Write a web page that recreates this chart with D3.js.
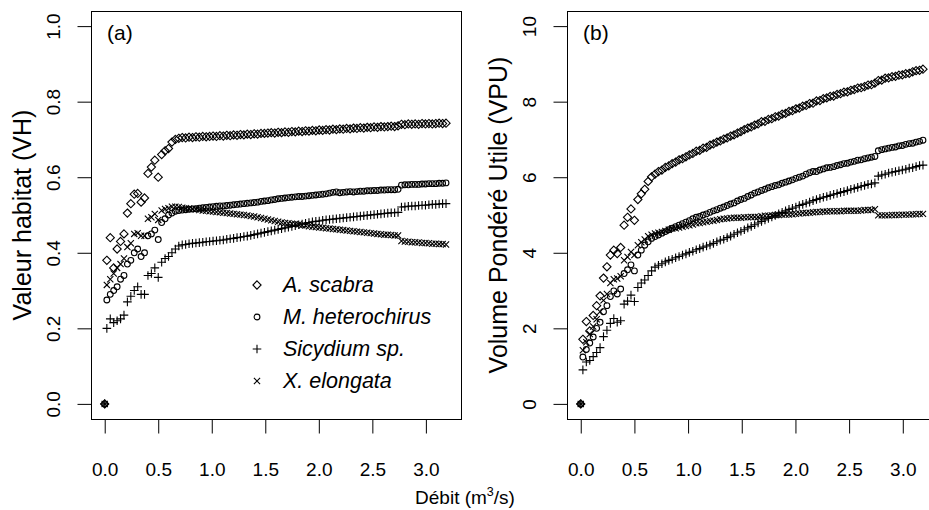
<!DOCTYPE html>
<html><head><meta charset="utf-8">
<script src="https://cdn.jsdelivr.net/npm/d3@7"></script>
<style>
html,body{margin:0;padding:0;background:#fff;}
text{font-family:"Liberation Sans",Arial,sans-serif;fill:#000;}
</style></head>
<body><div id="chart"></div>
<script>
const debit = [0,
0.02,0.052,0.084,0.116,0.148,0.18,0.212,0.244,0.276,0.308,
0.34,0.372,0.404,0.436,0.468,0.5,0.532,0.564,0.596,0.628,
0.66,0.692,0.724,0.756,0.788,0.82,0.852,0.884,0.916,0.948,
0.98,1.012,1.044,1.076,1.108,1.14,1.172,1.204,1.236,1.268,
1.3,1.332,1.364,1.396,1.428,1.46,1.492,1.524,1.556,1.588,
1.62,1.652,1.684,1.716,1.748,1.78,1.812,1.844,1.876,1.908,
1.94,1.972,2.004,2.036,2.068,2.1,2.132,2.164,2.196,2.228,
2.26,2.292,2.324,2.356,2.388,2.42,2.452,2.484,2.516,2.548,
2.58,2.612,2.644,2.676,2.708,2.74,2.772,2.804,2.836,2.868,
2.9,2.932,2.964,2.996,3.028,3.06,3.092,3.124,3.156,3.188];

const species = ["A. scabra","M. heterochirus","Sicydium sp.","X. elongata"];

const vhScabra = [0,
0.38,0.44,0.36,0.41,0.43,0.45,0.505,0.53,0.555,0.557,
0.534,0.545,0.61,0.627,0.645,0.60,0.66,0.67,0.676,0.693,
0.70,0.703,0.705,0.704,0.706,0.705,0.707,0.706,0.708,0.707,
0.708,0.709,0.708,0.710,0.709,0.711,0.710,0.712,0.711,0.713,
0.712,0.714,0.713,0.715,0.714,0.716,0.716,0.717,0.718,0.717,
0.719,0.718,0.720,0.719,0.721,0.720,0.722,0.721,0.723,0.722,
0.724,0.723,0.725,0.724,0.726,0.725,0.727,0.726,0.728,0.727,
0.729,0.728,0.730,0.729,0.731,0.730,0.732,0.731,0.733,0.732,
0.734,0.733,0.734,0.735,0.734,0.736,0.740,0.739,0.741,0.740,
0.741,0.740,0.742,0.741,0.742,0.741,0.742,0.743,0.742,0.743];
const vhMhet = [0,
0.275,0.29,0.30,0.31,0.33,0.34,0.37,0.38,0.40,0.41,
0.39,0.40,0.445,0.45,0.46,0.435,0.48,0.49,0.50,0.505,
0.51,0.512,0.513,0.514,0.515,0.516,0.517,0.518,0.519,0.520,
0.521,0.522,0.523,0.524,0.524,0.525,0.526,0.527,0.528,0.529,
0.530,0.531,0.532,0.533,0.534,0.536,0.537,0.538,0.540,0.541,
0.543,0.544,0.545,0.546,0.547,0.548,0.549,0.549,0.550,0.551,
0.552,0.553,0.554,0.555,0.556,0.558,0.560,0.561,0.559,0.560,
0.561,0.562,0.561,0.562,0.563,0.563,0.564,0.564,0.565,0.565,
0.566,0.566,0.567,0.567,0.567,0.568,0.579,0.580,0.580,0.581,
0.581,0.581,0.582,0.582,0.583,0.583,0.583,0.584,0.584,0.585];
const vhSicy = [0,
0.20,0.225,0.215,0.22,0.225,0.235,0.27,0.285,0.30,0.31,
0.29,0.29,0.34,0.345,0.36,0.335,0.375,0.385,0.39,0.40,
0.41,0.418,0.421,0.422,0.424,0.425,0.426,0.427,0.428,0.429,
0.430,0.431,0.432,0.433,0.434,0.436,0.437,0.438,0.440,0.441,
0.443,0.444,0.446,0.448,0.450,0.452,0.454,0.456,0.458,0.460,
0.462,0.464,0.466,0.468,0.470,0.472,0.474,0.476,0.478,0.480,
0.482,0.483,0.484,0.486,0.487,0.488,0.489,0.490,0.491,0.492,
0.493,0.494,0.495,0.496,0.497,0.498,0.499,0.500,0.501,0.502,
0.503,0.504,0.505,0.506,0.506,0.507,0.521,0.522,0.523,0.524,
0.524,0.525,0.526,0.526,0.527,0.528,0.528,0.529,0.530,0.530];
const vhXel = [0,
0.315,0.33,0.345,0.36,0.37,0.385,0.415,0.425,0.45,0.452,
0.445,0.445,0.49,0.494,0.503,0.487,0.512,0.516,0.518,0.522,
0.522,0.521,0.519,0.518,0.517,0.516,0.515,0.513,0.512,0.511,
0.510,0.509,0.508,0.507,0.506,0.505,0.504,0.503,0.502,0.501,
0.500,0.499,0.497,0.496,0.494,0.492,0.490,0.488,0.486,0.484,
0.482,0.480,0.479,0.478,0.477,0.476,0.475,0.473,0.472,0.470,
0.469,0.468,0.467,0.466,0.465,0.464,0.463,0.462,0.461,0.460,
0.459,0.458,0.457,0.456,0.455,0.454,0.453,0.452,0.451,0.450,
0.449,0.448,0.448,0.447,0.446,0.446,0.431,0.430,0.429,0.428,
0.428,0.427,0.426,0.426,0.425,0.424,0.424,0.423,0.423,0.422];

const vpuScabra = [0,
1.71,2.18,1.93,2.34,2.60,2.86,3.33,3.63,3.94,4.07,
3.98,4.14,4.73,4.94,5.16,4.86,5.41,5.56,5.68,5.89,
6.01,6.08,6.15,6.19,6.26,6.30,6.36,6.40,6.46,6.49,
6.54,6.59,6.63,6.69,6.71,6.77,6.79,6.85,6.88,6.93,
6.96,7.01,7.04,7.09,7.12,7.17,7.21,7.26,7.30,7.33,
7.38,7.41,7.47,7.48,7.53,7.55,7.60,7.62,7.67,7.69,
7.74,7.76,7.81,7.83,7.88,7.90,7.95,7.96,8.02,8.03,
8.08,8.10,8.14,8.15,8.19,8.21,8.25,8.26,8.30,8.32,
8.36,8.37,8.40,8.44,8.45,8.49,8.56,8.57,8.62,8.63,
8.66,8.67,8.70,8.71,8.74,8.75,8.79,8.82,8.83,8.86];
const vpuMhet = [0,
1.24,1.44,1.61,1.77,2.00,2.16,2.44,2.60,2.84,2.99,
2.91,3.04,3.45,3.55,3.68,3.52,3.94,4.07,4.20,4.29,
4.38,4.43,4.47,4.52,4.56,4.61,4.65,4.69,4.73,4.77,
4.81,4.85,4.90,4.94,4.96,5.00,5.03,5.07,5.11,5.14,
5.18,5.21,5.25,5.29,5.32,5.37,5.41,5.44,5.49,5.53,
5.58,5.61,5.65,5.68,5.72,5.75,5.78,5.80,5.84,5.87,
5.90,5.93,5.97,6.00,6.03,6.08,6.12,6.15,6.15,6.19,
6.22,6.25,6.26,6.28,6.31,6.33,6.36,6.37,6.40,6.42,
6.45,6.46,6.49,6.51,6.53,6.55,6.70,6.73,6.75,6.77,
6.79,6.80,6.83,6.84,6.87,6.89,6.90,6.93,6.95,6.98];
const vpuSicy = [0,
0.90,1.11,1.15,1.25,1.36,1.49,1.78,1.95,2.13,2.26,
2.16,2.20,2.64,2.72,2.88,2.71,3.08,3.20,3.28,3.40,
3.52,3.62,3.67,3.71,3.76,3.80,3.83,3.87,3.90,3.94,
3.97,4.01,4.04,4.08,4.11,4.15,4.18,4.21,4.25,4.29,
4.33,4.36,4.40,4.44,4.49,4.53,4.57,4.61,4.66,4.70,
4.74,4.79,4.83,4.87,4.91,4.95,4.99,5.03,5.07,5.11,
5.15,5.18,5.21,5.25,5.28,5.31,5.34,5.38,5.41,5.44,
5.47,5.49,5.52,5.55,5.57,5.60,5.62,5.65,5.68,5.70,
5.73,5.76,5.78,5.81,5.82,5.85,6.03,6.06,6.08,6.11,
6.13,6.15,6.17,6.19,6.21,6.24,6.25,6.28,6.31,6.32];
const vpuXel = [0,
1.42,1.63,1.85,2.05,2.24,2.44,2.74,2.91,3.20,3.30,
3.32,3.38,3.80,3.89,4.02,3.94,4.20,4.28,4.35,4.44,
4.48,4.51,4.53,4.55,4.58,4.61,4.64,4.65,4.67,4.69,
4.71,4.73,4.75,4.78,4.79,4.81,4.82,4.84,4.85,4.87,
4.89,4.90,4.91,4.92,4.93,4.93,4.93,4.94,4.94,4.95,
4.95,4.95,4.97,4.98,4.98,4.99,5.00,5.00,5.01,5.01,
5.01,5.02,5.03,5.04,5.05,5.05,5.06,5.07,5.08,5.08,
5.09,5.09,5.10,5.10,5.10,5.10,5.11,5.11,5.11,5.11,
5.11,5.12,5.13,5.13,5.13,5.15,4.99,4.99,4.99,4.99,
5.00,5.00,5.00,5.01,5.01,5.01,5.02,5.02,5.03,5.03];

const xTicks = [0,0.5,1,1.5,2,2.5,3];
const yTicksA = [0,0.2,0.4,0.6,0.8,1.0];
const yTicksB = [0,2,4,6,8,10];

const W = 929, H = 510;
const svg = d3.select("#chart").append("svg").attr("width",W).attr("height",H);
const FONT = "Liberation Sans, Arial, sans-serif";

const shapes = ["diamond","circle","plus","cross"];
function drawSym(g, shape, x, y){
  if(shape==="circle"){
    g.append("circle").attr("cx",x).attr("cy",y).attr("r",2.9)
      .attr("fill","none").attr("stroke","#000").attr("stroke-width",1.1);
    return;
  }
  let d;
  if(shape==="diamond"){ const r=4.1; d=`M${x},${y-r}L${x+r},${y}L${x},${y+r}L${x-r},${y}Z`; }
  else if(shape==="plus"){ const r=4.3; d=`M${x-r},${y}H${x+r}M${x},${y-r}V${y+r}`; }
  else { const r=3.1; d=`M${x-r},${y-r}L${x+r},${y+r}M${x-r},${y+r}L${x+r},${y-r}`; }
  g.append("path").attr("d",d).attr("fill","none").attr("stroke","#000").attr("stroke-width",1.1);
}

function panel(opts){
  const {left,right,series,yDomain,yTicks,yFmt,title,tag} = opts;
  const top=11, bottom=419;
  const x = d3.scaleLinear().domain([-0.128,3.328]).range([left,right]);
  const y = d3.scaleLinear().domain(yDomain).range([bottom,top]);
  const g = svg.append("g");
  g.append("rect").attr("x",left+0.5).attr("y",top+0.5)
    .attr("width",right-left).attr("height",bottom-top)
    .attr("fill","none").attr("stroke","#000").attr("stroke-width",1);

  const xa = g.append("g").attr("transform",`translate(0,${bottom+0.5})`)
    .call(d3.axisBottom(x).tickValues(xTicks).tickSize(14).tickFormat(d3.format(".1f")));
  xa.select(".domain").attr("d",`M${x(0)},0H${x(3)}`);
  xa.selectAll("text").attr("font-size",19).attr("font-family",FONT)
    .attr("y",56).attr("dy",null);

  const ya = g.append("g").attr("transform",`translate(${left+0.5},0)`)
    .call(d3.axisLeft(y).tickValues(yTicks).tickSize(14).tickFormat(yFmt));
  ya.select(".domain").attr("d",`M0,${y(yTicks[0])}V${y(yTicks[yTicks.length-1])}`);
  ya.selectAll("text").attr("font-size",19).attr("font-family",FONT)
    .attr("x",0).attr("dy",null).attr("text-anchor","middle")
    .attr("transform","translate(-39,0) rotate(-90) translate(0,7)");

  series.forEach((s,si)=>{
    const sg = g.append("g");
    debit.forEach((d,i)=>drawSym(sg, shapes[si], x(d), y(s[i])));
  });

  g.append("text").attr("x",left+16).attr("y",40).attr("font-size",21).text(tag);
  g.append("text").attr("transform",`translate(${left-60},${(top+bottom)/2}) rotate(-90)`)
    .attr("text-anchor","middle").attr("font-size",25).text(title);
  return {x,y};
}

panel({left:91,right:461,series:[vhScabra,vhMhet,vhSicy,vhXel],yDomain:[-0.04,1.04],
  yTicks:yTicksA,yFmt:d3.format(".1f"),title:"Valeur habitat (VH)",tag:"(a)"});
panel({left:567,right:938,series:[vpuScabra,vpuMhet,vpuSicy,vpuXel],yDomain:[-0.4,10.4],
  yTicks:yTicksB,yFmt:d3.format("d"),title:"Volume Pondéré Utile (VPU)",tag:"(b)"});

// legend
const leg = svg.append("g");
const legY = [285,317,349,381];
species.forEach((s,i)=>{
  drawSym(leg, shapes[i], 257, legY[i]);
  leg.append("text").attr("x",283).attr("y",legY[i]+7).attr("font-size",21.5)
    .attr("font-style","italic").text(s);
});

// x title
const xt = svg.append("text").attr("x",465).attr("y",504).attr("text-anchor","middle").attr("font-size",19);
xt.append("tspan").text("Débit (m");
xt.append("tspan").attr("font-size",12.5).attr("dy",-8).text("3");
xt.append("tspan").attr("dy",8).text("/s)");
</script></body></html>
